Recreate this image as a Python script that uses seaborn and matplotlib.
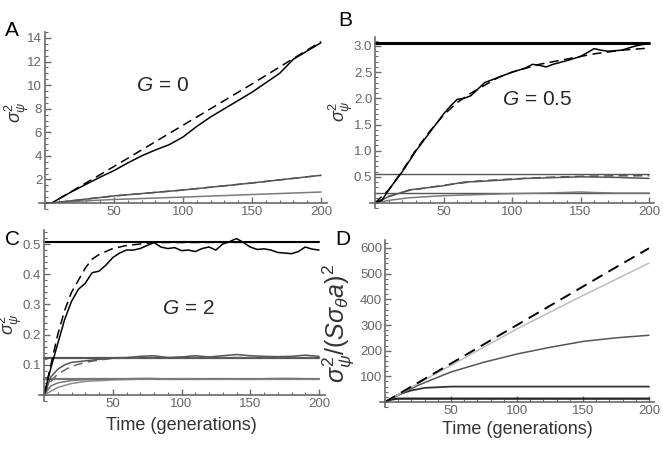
import matplotlib
matplotlib.use("Agg")
import matplotlib.pyplot as plt
from matplotlib.ticker import MultipleLocator, FixedLocator
import seaborn as sns

# ---- Panel A (G = 0) ----
a_sim_t = [0, 5, 10, 20, 30, 40, 50, 60, 70, 80, 90, 100, 110, 120, 130, 140, 150, 160, 170, 180, 190, 200]
a_sim_y = [0, 0, 0.35, 1.0, 1.6, 2.2, 2.75, 3.4, 4.0, 4.5, 4.95, 5.6, 6.5, 7.3, 8.0, 8.7, 9.4, 10.2, 11.0, 12.2, 12.9, 13.6]
a_th_t = [0, 5, 50, 100, 150, 200]
a_th_y = [0, 0, 3.1, 6.6, 10.1, 13.7]
a_mid_t = [0, 5, 50, 100, 150, 200]
a_mid_y = [0, 0, 0.6, 1.1, 1.7, 2.35]
a_low_t = [0, 50, 100, 150, 200]
a_low_y = [0, 0.3, 0.5, 0.72, 0.93]

# ---- Panel B (G = 0.5) ----
b_sim_t = [0, 5, 10, 20, 30, 40, 50, 55, 60, 65, 70, 80, 90, 100, 110, 115, 120, 125, 130, 140, 150, 160, 165, 170, 180, 190, 200]
b_sim_y = [0, 0.05, 0.25, 0.6, 1.0, 1.35, 1.7, 1.85, 1.98, 2.0, 2.05, 2.3, 2.4, 2.5, 2.58, 2.65, 2.63, 2.6, 2.65, 2.72, 2.8, 2.95, 2.92, 2.9, 2.92, 3.0, 3.05]
b_th_t = [0, 10, 20, 30, 40, 50, 60, 70, 80, 90, 100, 120, 140, 160, 180, 200]
b_th_y = [0, 0.25, 0.62, 1.02, 1.37, 1.68, 1.92, 2.1, 2.25, 2.4, 2.5, 2.65, 2.75, 2.85, 2.92, 2.96]
b_mid_t = [0, 10, 25, 50, 65, 75, 100, 110, 125, 150, 175, 200]
b_mid_y = [0, 0.12, 0.25, 0.33, 0.4, 0.41, 0.45, 0.47, 0.48, 0.5, 0.49, 0.47]
b_midth_t = [0, 10, 25, 50, 75, 100, 125, 150, 175, 200]
b_midth_y = [0, 0.13, 0.24, 0.34, 0.42, 0.46, 0.49, 0.51, 0.52, 0.52]
b_low_t = [0, 10, 25, 50, 75, 100, 125, 150, 160, 175, 200]
b_low_y = [0, 0.05, 0.1, 0.14, 0.16, 0.18, 0.19, 0.21, 0.2, 0.19, 0.19]
b_levels = [3.05, 0.55, 0.2]

# ---- Panel C (G = 2) ----
c_sim_t = list(range(0, 205, 5))
c_sim_y = [0, 0.09, 0.17, 0.25, 0.31, 0.35, 0.37, 0.405, 0.41, 0.43, 0.455, 0.47, 0.48, 0.48,
           0.485, 0.495, 0.505, 0.49, 0.485, 0.488, 0.478, 0.48, 0.475, 0.485, 0.49, 0.48, 0.5,
           0.508, 0.518, 0.505, 0.49, 0.482, 0.484, 0.48, 0.472, 0.47, 0.468, 0.475, 0.49, 0.483, 0.48]
c_th_t = [0, 5, 10, 15, 20, 25, 30, 35, 40, 50, 60, 70, 80, 100, 200]
c_th_y = [0, 0.1, 0.2, 0.28, 0.34, 0.38, 0.42, 0.45, 0.465, 0.485, 0.495, 0.5, 0.505, 0.505, 0.506]
c_mid_t = [0, 5, 10, 15, 20, 30, 40, 50, 60, 70, 80, 90, 100, 110, 120, 130, 140, 150, 160, 170, 180, 190, 200]
c_mid_y = [0, 0.06, 0.085, 0.1, 0.108, 0.113, 0.118, 0.123, 0.124, 0.128, 0.13, 0.124, 0.126,
           0.13, 0.126, 0.13, 0.134, 0.13, 0.128, 0.127, 0.128, 0.132, 0.128]
c_midth_t = [0, 5, 10, 20, 30, 40, 50, 75, 200]
c_midth_y = [0, 0.045, 0.07, 0.095, 0.108, 0.116, 0.121, 0.124, 0.124]
c_low_t = [0, 5, 10, 20, 30, 50, 75, 100, 125, 150, 175, 200]
c_low_y = [0, 0.03, 0.04, 0.048, 0.051, 0.053, 0.055, 0.052, 0.054, 0.053, 0.055, 0.053]
c_lowth_t = [0, 10, 20, 30, 50, 75, 200]
c_lowth_y = [0, 0.025, 0.038, 0.045, 0.05, 0.053, 0.053]
c_levels = [0.506, 0.124, 0.053]

# ---- Panel D ----
d_t = [0, 25, 50, 75, 100, 125, 150, 175, 200]
d_dash_y = [0, 75, 150, 225, 300, 375, 450, 525, 599]
d_light_y = [0, 72, 143, 214, 285, 350, 415, 478, 541]
d_mid_y = [0, 65, 117, 155, 187, 213, 236, 250, 260]
d_dark_t = [0, 10, 20, 30, 50, 75, 100, 200]
d_dark_y = [0, 29, 45, 55, 60, 60, 60, 60]
d_base_t = [0, 5, 10, 200]
d_base_y = [0, 10, 13, 13]

sns.set_style("ticks")
plt.rcParams["font.family"] = ["Liberation Sans", "DejaVu Sans"]
plt.rcParams["mathtext.fontset"] = "custom"
plt.rcParams["mathtext.rm"] = "Liberation Sans"
plt.rcParams["mathtext.it"] = "Liberation Sans:italic"

W, H = 663, 451
fig = plt.figure(figsize=(W / 100, H / 100), dpi=100)

AX_GRAY = "#6a6a6a"


def make_axes(px0, px200, py0, pyv, v, ylo, yhi, xlo=-4, xhi=204):
    sx = (px200 - px0) / 200
    sy = (py0 - pyv) / v
    left = px0 + xlo * sx
    right = px0 + xhi * sx
    bottom = py0 - ylo * sy
    top = py0 - yhi * sy
    ax = fig.add_axes([left / W, 1 - bottom / H, (right - left) / W, (bottom - top) / H])
    ax.set_xlim(xlo, xhi)
    ax.set_ylim(ylo, yhi)
    for s in ["top", "right"]:
        ax.spines[s].set_visible(False)
    for s in ["left", "bottom"]:
        ax.spines[s].set_position(("data", 0))
        ax.spines[s].set_color(AX_GRAY)
        ax.spines[s].set_linewidth(1.2)
    ax.xaxis.set_major_locator(FixedLocator([50, 100, 150, 200]))
    ax.xaxis.set_minor_locator(MultipleLocator(10))
    ax.tick_params(which="major", direction="in", length=4, width=1, color=AX_GRAY,
                   labelcolor="#666666", labelsize=9.5, pad=2)
    ax.tick_params(which="minor", direction="in", length=2, width=0.8, color=AX_GRAY)
    return ax


def yticks(ax, major, minor, fmt):
    ax.yaxis.set_major_locator(FixedLocator(major))
    ax.yaxis.set_minor_locator(MultipleLocator(minor))
    ax.set_yticklabels([fmt.format(m) for m in major])


def line(ax, t, y, color, lw=1.1, dashed=False):
    sns.lineplot(x=t, y=y, ax=ax, color=color, linewidth=lw,
                 linestyle=(0, (6, 3.5)) if dashed else "-", legend=False)


ylab = r"$\sigma_{\psi}^{2}$"

# A
axA = make_axes(45, 321, 203, 38, 14, -0.5, 14.5)
line(axA, a_low_t, a_low_y, "#7a7a7a")
line(axA, a_mid_t, a_mid_y, "#555555")
line(axA, a_mid_t, a_mid_y, "#555555", dashed=True)
line(axA, a_th_t, a_th_y, "black", dashed=True)
line(axA, a_sim_t, a_sim_y, "black")
yticks(axA, [2, 4, 6, 8, 10, 12, 14], 0.5, "{:g}")
axA.text(85, 10.0, r"$G$ = 0", fontsize=15, ha="center", va="center")

# B
axB = make_axes(375, 649, 203, 46, 3.0, -0.1, 3.17)
axB.axhline(b_levels[0], color="black", lw=2.2, xmin=0.02, xmax=0.98)
for lv in b_levels[1:]:
    axB.axhline(lv, color="#555555", lw=1.0, xmin=0.02, xmax=0.98)
line(axB, b_low_t, b_low_y, "#7a7a7a")
line(axB, b_midth_t, b_midth_y, "#555555", dashed=True)
line(axB, b_mid_t, b_mid_y, "#555555")
line(axB, b_th_t, b_th_y, "black", dashed=True)
line(axB, b_sim_t, b_sim_y, "black")
yticks(axB, [0.5, 1.0, 1.5, 2.0, 2.5, 3.0], 0.1, "{:.1f}")
axB.text(118, 1.97, r"$G$ = 0.5", fontsize=15, ha="center", va="center")

# C
axC = make_axes(44, 319, 395, 244, 0.5, -0.02, 0.545)
axC.axhline(c_levels[0], color="black", lw=1.5, xmin=0.02, xmax=0.98)
axC.axhline(c_levels[1], color="#555555", lw=1.6, xmin=0.02, xmax=0.98)
axC.axhline(c_levels[2], color="#777777", lw=1.6, xmin=0.02, xmax=0.98)
line(axC, c_lowth_t, c_lowth_y, "#8a8a8a")
line(axC, c_low_t, c_low_y, "#777777")
line(axC, c_midth_t, c_midth_y, "#666666", dashed=True)
line(axC, c_mid_t, c_mid_y, "#555555")
line(axC, c_th_t, c_th_y, "black", dashed=True)
line(axC, c_sim_t, c_sim_y, "black")
yticks(axC, [0.1, 0.2, 0.3, 0.4, 0.5], 0.02, "{:.1f}")
axC.text(105, 0.288, r"$G$ = 2", fontsize=15, ha="center", va="center")
axC.set_xlabel("Time (generations)", fontsize=13, color="#333333", labelpad=5)

# D
axD = make_axes(385, 649, 402, 248, 600, -20, 630)
line(axD, d_base_t, d_base_y, "#222222", lw=1.6)
line(axD, d_dark_t, d_dark_y, "#333333", lw=1.3)
line(axD, d_t, d_mid_y, "#555555", lw=1.1)
line(axD, d_t, d_light_y, "#bdbdbd", lw=1.1)
line(axD, d_t, d_dash_y, "black", lw=1.4, dashed=True)
yticks(axD, [100, 200, 300, 400, 500, 600], 20, "{:d}")
axD.set_xlabel("Time (generations)", fontsize=13, color="#333333", labelpad=3)

# y labels
for ax, coords in [(axA, (-0.03, 0.55)), (axB, (-0.05, 0.57)), (axC, (-0.05, 0.45))]:
    ax.set_ylabel(ylab, fontsize=13, color="#333333", rotation=90)
    ax.yaxis.set_label_coords(*coords)
axD.set_ylabel(r"$\sigma_{\psi}^{2}/(S\sigma_{\theta}a)^2$", fontsize=18, color="#333333")
axD.yaxis.set_label_coords(-0.085, 0.5)

# panel letters
for x, y, s in [(12, 30, "A"), (345, 20, "B"), (12, 240, "C"), (343, 240, "D")]:
    fig.text(x / W, 1 - y / H, s, fontsize=15, ha="center", va="center", color="black")

fig.savefig("out.png", dpi=100)
